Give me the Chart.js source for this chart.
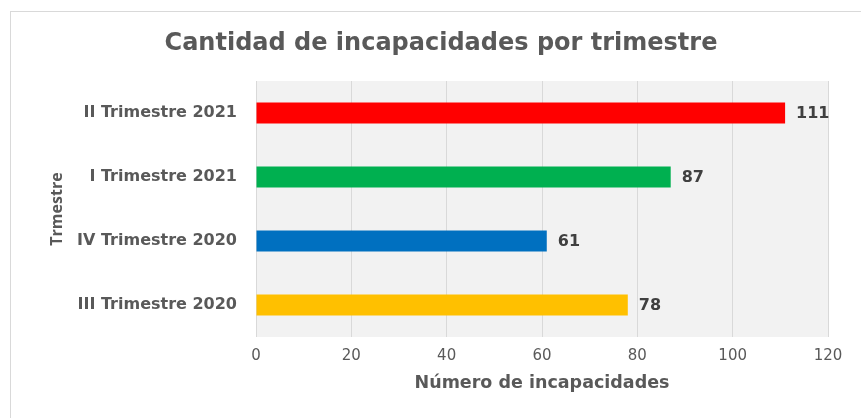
<!DOCTYPE html>
<html>
<head>
<meta charset="utf-8">
<script src="https://cdn.jsdelivr.net/npm/chart.js@4/dist/chart.umd.min.js"></script>
<style>
  html, body { margin: 0; padding: 0; background: #fff; overflow: hidden; }
  #box {
    position: absolute; left: 10px; top: 11px;
    width: 880px; height: 440px;
    border: 1px solid #d9d9d9;
  }
  #wrap { position: absolute; left: 11px; top: 12px; width: 860px; height: 406px; }
</style>
</head>
<body>
<div id="box"></div>
<div id="wrap"><canvas id="chart"></canvas></div>
<script>
// datos (de arriba hacia abajo)
const trimestres = ['II Trimestre 2021', 'I Trimestre 2021', 'IV Trimestre 2020', 'III Trimestre 2020'];
const incapacidades = [111, 87, 61, 78];
const colores = ['#FF0000', '#00B050', '#0070C0', '#FFC000'];
const ticksX = [0, 20, 40, 60, 80, 100, 120];

const WIDE = "'DejaVu Sans', sans-serif";
const NARROW = "'Open Sans', sans-serif";

// fondo gris del area de trazado
const plotBg = {
  id: 'plotBg',
  beforeDraw(chart) {
    const { ctx, chartArea: a } = chart;
    ctx.save();
    ctx.fillStyle = '#F2F2F2';
    ctx.fillRect(a.left, a.top, a.right - a.left, a.bottom - a.top);
    ctx.restore();
  },
};

// etiquetas de valor al final de cada barra
const valueLabels = {
  id: 'valueLabels',
  afterDatasetsDraw(chart) {
    const { ctx } = chart;
    const meta = chart.getDatasetMeta(0);
    ctx.save();
    ctx.font = 'bold 16px ' + WIDE;
    ctx.fillStyle = '#404040';
    ctx.textAlign = 'left';
    ctx.textBaseline = 'middle';
    meta.data.forEach((bar, i) => {
      ctx.fillText(String(incapacidades[i]), bar.x + 11, bar.y + 1);
    });
    ctx.restore();
  },
};

new Chart(document.getElementById('chart'), {
  type: 'bar',
  data: {
    labels: trimestres,
    datasets: [{
      data: incapacidades,
      backgroundColor: colores,
      borderWidth: 0,
      barPercentage: 0.33,
      categoryPercentage: 1,
    }],
  },
  options: {
    indexAxis: 'y',
    responsive: true,
    maintainAspectRatio: false,
    animation: false,
    layout: { padding: { left: 43, right: 43, top: 0, bottom: 0 } },
    plugins: {
      legend: { display: false },
      tooltip: { enabled: false },
      title: {
        display: true,
        text: 'Cantidad de incapacidades por trimestre',
        color: '#595959',
        font: { family: WIDE, size: 24, weight: 'bold', lineHeight: 1.2 },
        padding: { top: 17.6, bottom: 22.6 },
      },
    },
    scales: {
      x: {
        min: 0,
        max: 120,
        afterFit(scale) { scale.height = 81; },
        afterBuildTicks(scale) { scale.ticks = ticksX.map(v => ({ value: v })); },
        grid: { color: '#D9D9D9', lineWidth: 1, drawTicks: false },
        border: { display: false },
        ticks: { color: '#595959', padding: 10, font: { family: WIDE, size: 15 } },
        title: {
          display: true,
          text: 'Número de incapacidades',
          color: '#595959',
          font: { family: WIDE, size: 17.5, weight: 'bold', lineHeight: 1.2 },
          padding: { top: 0, bottom: 24.5 },
        },
      },
      y: {
        afterFit(scale) { scale.width = 202; },
        grid: { display: false, drawTicks: false },
        border: { display: false },
        ticks: { color: '#595959', padding: 19, font: { family: WIDE, size: 16, weight: 'bold' } },
        title: {
          display: true,
          text: 'Trmestre',
          color: '#595959',
          font: { family: NARROW, size: 16, weight: 'bold', lineHeight: 1.2 },
          padding: { top: -6.6, bottom: 0 },
        },
      },
    },
  },
  plugins: [plotBg, valueLabels],
});
</script>
</body>
</html>
